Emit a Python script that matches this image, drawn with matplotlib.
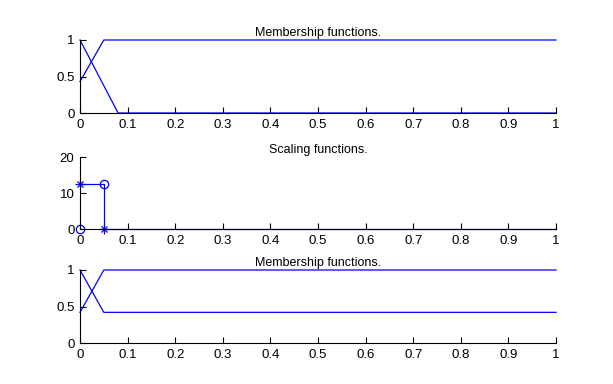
import matplotlib
matplotlib.use("Agg")
import matplotlib.pyplot as plt

plt.rcParams['font.family'] = ['Liberation Sans', 'DejaVu Sans']
plt.rcParams['font.size'] = 9

# membership functions (top)
mf1_x = [0, 0.08, 1]
mf1_y = [1, 0, 0]
mf2_x = [0, 0.05, 1]
mf2_y = [0.43, 1, 1]

# scaling functions (middle)
sc_line_x = [0, 0.05, 0.05, 1]
sc_line_y = [12.4, 12.4, 0, 0]
sc_o_x = [0, 0.05]
sc_o_y = [0, 12.4]
sc_star_x = [0, 0.05]
sc_star_y = [12.4, 0]

# membership functions (bottom)
mfb_x = [0, 0.05, 1]
mfb1_y = [1, 0.42, 0.42]
mfb2_y = [0.42, 1, 1]

xticks = [0, 0.1, 0.2, 0.3, 0.4, 0.5, 0.6, 0.7, 0.8, 0.9, 1]
xticklabels = ['0', '0.1', '0.2', '0.3', '0.4', '0.5', '0.6', '0.7', '0.8', '0.9', '1']

fig = plt.figure(figsize=(6.13, 3.84), dpi=100)
blue = '#0000ff'


def setup(ax, ylim, yticks):
    ax.set_xlim(0, 1)
    ax.set_ylim(*ylim)
    ax.set_xticks(xticks)
    ax.set_xticklabels(xticklabels)
    ax.set_yticks(yticks)
    ax.set_yticklabels([('%g' % t) for t in yticks])
    ax.spines['top'].set_visible(False)
    ax.spines['right'].set_visible(False)
    ax.tick_params(direction='in', length=4, width=0.8, pad=4, labelsize=9.5)
    for s in ('left', 'bottom'):
        ax.spines[s].set_linewidth(0.8)
    ax.patch.set_visible(False)


left, width = 80 / 613, 476 / 613

ax1 = fig.add_axes([left, 1 - 113 / 384, width, 73 / 384])
ax1.plot(mf1_x, mf1_y, color=blue, lw=0.9, clip_on=False)
ax1.plot(mf2_x, mf2_y, color=blue, lw=0.9, clip_on=False)
setup(ax1, (0, 1), [0, 0.5, 1])
ax1.set_title('Membership functions.', fontsize=9, pad=3)

ax2 = fig.add_axes([left, 1 - 229 / 384, width, 72 / 384])
ax2.plot(sc_line_x, sc_line_y, color=blue, lw=0.9, clip_on=False)
ax2.plot(sc_o_x, sc_o_y, 'o', color=blue, mfc='none', ms=6, mew=0.9, clip_on=False)
# matlab style asterisk = plus + cross
ax2.plot(sc_star_x, sc_star_y, '+', color=blue, ms=7, mew=0.9, clip_on=False)
ax2.plot(sc_star_x, sc_star_y, 'x', color=blue, ms=5, mew=0.9, clip_on=False)
setup(ax2, (0, 20), [0, 10, 20])
ax2.set_title('Scaling functions.', fontsize=9, pad=3)

ax3 = fig.add_axes([left, 1 - 343 / 384, width, 73 / 384])
ax3.plot(mfb_x, mfb1_y, color=blue, lw=0.9, clip_on=False)
ax3.plot(mfb_x, mfb2_y, color=blue, lw=0.9, clip_on=False)
setup(ax3, (0, 1), [0, 0.5, 1])
ax3.set_title('Membership functions.', fontsize=9, pad=3)

fig.savefig('out.png', dpi=100)
